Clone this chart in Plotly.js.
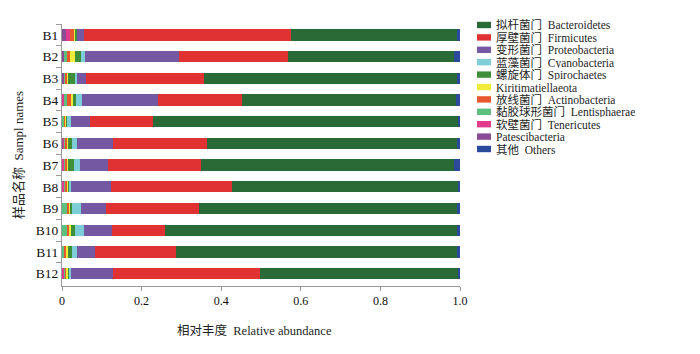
<!DOCTYPE html>
<html>
<head>
<meta charset="utf-8">
<script src="https://cdn.plot.ly/plotly-3.0.1.min.js"></script>
<style>html,body{margin:0;padding:0;background:#fff;}#chart{width:700px;height:354px;}</style>
</head>
<body>
<div id="chart"></div>
<script>
// Sample names
const samples = ["B1","B2","B3","B4","B5","B6","B7","B8","B9","B10","B11","B12"];

// Relative abundance per phylum (B1..B12)
const patescibacteria   = [0.010,0.005,0.005,0.000,0.000,0.002,0.000,0.000,0.000,0.000,0.000,0.000];
const tenericutes       = [0.011,0.000,0.000,0.005,0.000,0.002,0.004,0.004,0.000,0.000,0.000,0.005];
const lentisphaerae     = [0.000,0.008,0.003,0.008,0.004,0.003,0.004,0.004,0.013,0.013,0.006,0.003];
const actinobacteria    = [0.008,0.008,0.004,0.010,0.003,0.005,0.004,0.004,0.004,0.004,0.004,0.003];
const kiritimatiellaeota= [0.004,0.011,0.003,0.004,0.003,0.004,0.004,0.002,0.004,0.005,0.004,0.003];
const spirochaetes      = [0.005,0.015,0.017,0.008,0.003,0.008,0.013,0.004,0.005,0.011,0.012,0.004];
const cyanobacteria     = [0.000,0.012,0.005,0.014,0.010,0.014,0.015,0.004,0.022,0.023,0.012,0.004];
const proteobacteria    = [0.018,0.236,0.024,0.191,0.047,0.091,0.071,0.100,0.062,0.070,0.045,0.107];
const firmicutes        = [0.519,0.272,0.297,0.212,0.159,0.236,0.235,0.304,0.235,0.134,0.203,0.368];
const bacteroidetes     = [0.417,0.417,0.634,0.537,0.766,0.627,0.635,0.568,0.647,0.732,0.707,0.498];
const others            = [0.008,0.016,0.008,0.011,0.005,0.008,0.015,0.006,0.008,0.008,0.007,0.005];

// Series names (legend order) and colours
const legendNames = ["拟杆菌门\u00a0\u00a0Bacteroidetes","厚壁菌门\u00a0\u00a0Firmicutes","变形菌门\u00a0\u00a0Proteobacteria",
  "蓝藻菌门\u00a0\u00a0Cyanobacteria","螺旋体门\u00a0\u00a0Spirochaetes","Kiritimatiellaeota","放线菌门\u00a0\u00a0Actinobacteria",
  "黏胶球形菌门\u00a0\u00a0Lentisphaerae","软壁菌门\u00a0\u00a0Tenericutes","Patescibacteria","其他\u00a0\u00a0Others"];
const legendColors = ["#2a6a36","#e03232","#7458a2","#7ccdd8","#3f8f3a","#f0ec3a","#e8582e","#5cc07e","#e23a8c","#8a4c94","#2a4a9c"];
const legendData = [bacteroidetes,firmicutes,proteobacteria,cyanobacteria,spirochaetes,kiritimatiellaeota,
  actinobacteria,lentisphaerae,tenericutes,patescibacteria,others];

// stacking order from the axis outwards
const stackOrder = [9,8,7,6,5,4,3,2,1,0,10];

const traces = stackOrder.map(i => ({
  type: "bar", orientation: "h",
  y: samples, x: legendData[i],
  name: legendNames[i],
  marker: {color: legendColors[i], line: {width: 0}},
  width: 0.52,
  showlegend: false,
  hoverinfo: "name+x"
}));

// plot box in px
const L = 62, R = 460, T = 24, B = 286;
const pw = R - L, ph = B - T;
const serif = "Liberation Serif, Noto Sans CJK SC";

const shapes = [], annotations = [];
legendNames.forEach((n, k) => {
  const cy = 25 + k * 12.4;
  shapes.push({type: "rect", xref: "paper", yref: "paper",
    x0: (477 - L) / pw, x1: (491 - L) / pw,
    y0: (B - cy - 3.2) / ph, y1: (B - cy + 3.2) / ph,
    fillcolor: legendColors[k], line: {width: 0}});
  annotations.push({xref: "paper", yref: "paper", x: (495 - L) / pw, y: (B - cy) / ph,
    xanchor: "left", yanchor: "middle", text: n, showarrow: false, height: 11, borderpad: 0,
    font: {family: serif, size: 11.5, color: "#1e1e1e"}});
});

// x-axis title as annotation for exact placement
annotations.push({xref: "paper", yref: "paper", x: (254 - L) / pw, y: (B - 330) / ph,
  xanchor: "center", yanchor: "middle", showarrow: false,
  text: "相对丰度\u00a0\u00a0Relative abundance",
  font: {family: serif, size: 12.5, color: "#1e1e1e"}});

const layout = {
  width: 700, height: 354,
  margin: {l: L, r: 700 - R, t: T, b: 354 - B},
  paper_bgcolor: "#fff", plot_bgcolor: "#fff",
  barmode: "stack",
  showlegend: false,
  xaxis: {
    range: [0, 1], tickvals: [0, 0.2, 0.4, 0.6, 0.8, 1.0],
    ticktext: ["0", "0.2", "0.4", "0.6", "0.8", "1.0"],
    showgrid: false, zeroline: false, showline: true, linecolor: "#9a9a9a", linewidth: 1,
    ticks: "outside", ticklen: 4, tickcolor: "#9a9a9a",
    tickfont: {family: serif, size: 12, color: "#111"},
    fixedrange: true
  },
  yaxis: {
    type: "category", categoryorder: "array", categoryarray: samples,
    range: [11.57, -0.5],
    showgrid: false, zeroline: false, showline: true, linecolor: "#9a9a9a", linewidth: 1,
    ticks: "outside", ticklen: 5, tickcolor: "#9a9a9a", tickson: "boundaries",
    tickfont: {family: serif, size: 13.5, color: "#111"},
    title: {text: "样品名称\u00a0\u00a0Sampl names", standoff: 9,
      font: {family: serif, size: 13, color: "#1e1e1e"}},
    fixedrange: true
  },
  shapes: shapes,
  annotations: annotations
};

Plotly.newPlot("chart", traces, layout, {displayModeBar: false, staticPlot: true});
</script>
</body>
</html>
